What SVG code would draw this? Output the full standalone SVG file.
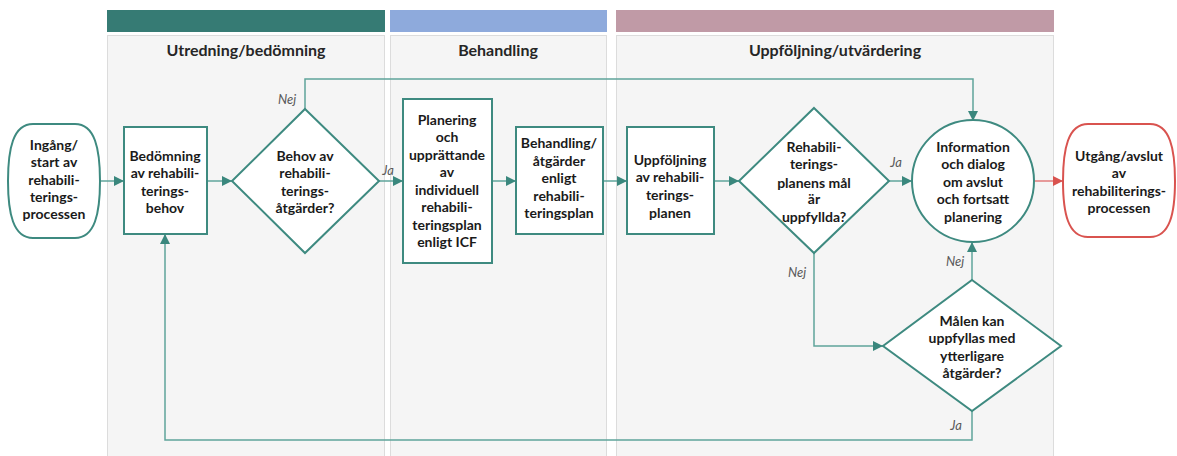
<svg xmlns="http://www.w3.org/2000/svg" width="1177" height="456" viewBox="0 0 1177 456">
<style>
.lane{fill:#f5f5f5;stroke:#dcdcdc;stroke-width:1}
.title{font-family:Lato,"Liberation Sans",sans-serif;font-weight:bold;font-size:16px;fill:#262626;text-anchor:middle}
.node{fill:#ffffff;stroke:#3e8a80;stroke-width:2}
.t{font-family:Lato,"Liberation Sans",sans-serif;font-weight:bold;font-size:14px;fill:#1a1a1a;text-anchor:middle}
.conn{fill:none;stroke:#5fa49b;stroke-width:1.5}
.red{fill:none;stroke:#e07b7b;stroke-width:1.5}
.lbl{font-family:Lato,"Liberation Sans",sans-serif;font-style:italic;font-size:13px;fill:#595959;text-anchor:middle}
</style>
<defs>
<marker id="ah" viewBox="0 0 10 10" refX="10" refY="5" markerWidth="10" markerHeight="10" markerUnits="userSpaceOnUse" orient="auto"><path d="M0,0 L10,5 L0,10 Z" fill="#3a877d"/></marker>
<marker id="ahr" viewBox="0 0 10 10" refX="10" refY="5" markerWidth="10" markerHeight="10" markerUnits="userSpaceOnUse" orient="auto"><path d="M0,0 L10,5 L0,10 Z" fill="#d9534f"/></marker>
</defs>
<rect width="1177" height="456" fill="#ffffff"/>
<g id="lanes">
<rect class="lane" x="107.5" y="35.5" width="277" height="425"/>
<rect class="lane" x="390.5" y="35.5" width="216" height="425"/>
<rect class="lane" x="616.5" y="35.5" width="437" height="425"/>
<rect x="107" y="10" width="278" height="22" fill="#367b74"/>
<rect x="390" y="10" width="217" height="22" fill="#8eaadc"/>
<rect x="616" y="10" width="438" height="22" fill="#c09aa6"/>
<text class="title" x="246" y="56">Utredning/bedömning</text>
<text class="title" x="498" y="56">Behandling</text>
<text class="title" x="835" y="56">Uppföljning/utvärdering</text>
</g>
<g id="connectors">
<line class="conn" x1="100" y1="181" x2="124" y2="181" marker-end="url(#ah)"/>
<line class="conn" x1="207" y1="181" x2="232" y2="181" marker-end="url(#ah)"/>
<line class="conn" x1="379" y1="181" x2="403" y2="181" marker-end="url(#ah)"/>
<line class="conn" x1="492" y1="181" x2="516" y2="181" marker-end="url(#ah)"/>
<line class="conn" x1="603" y1="181" x2="627" y2="181" marker-end="url(#ah)"/>
<line class="conn" x1="714" y1="181" x2="739" y2="181" marker-end="url(#ah)"/>
<line class="conn" x1="889" y1="181" x2="912" y2="181" marker-end="url(#ah)"/>
<line class="red" x1="1033" y1="181" x2="1063" y2="181" marker-end="url(#ahr)"/>
<polyline class="conn" points="305,109 305,79 973,79 973,121" marker-end="url(#ah)"/>
<polyline class="conn" points="814,253 814,346 883,346" marker-end="url(#ah)"/>
<line class="conn" x1="972" y1="280" x2="972" y2="242" marker-end="url(#ah)"/>
<polyline class="conn" points="972,411 972,440 165,440 165,234" marker-end="url(#ah)"/>
<text class="lbl" x="287" y="104">Nej</text>
<text class="lbl" x="388" y="175">Ja</text>
<text class="lbl" x="896" y="167">Ja</text>
<text class="lbl" x="797" y="277">Nej</text>
<text class="lbl" x="955" y="266">Nej</text>
<text class="lbl" x="956" y="430">Ja</text>
</g>
<g id="start">
<path class="node" d="M33,124 H75 C95,124 100,149 100,181 C100,213 95,238 75,238 H33 C13,238 8,213 8,181 C8,149 13,124 33,124 Z"/>
<text class="t" x="54" y="150">Ingång/</text>
<text class="t" x="54" y="167">start av</text>
<text class="t" x="54" y="185">rehabili-</text>
<text class="t" x="54" y="202">terings-</text>
<text class="t" x="54" y="219">processen</text>
</g>
<g id="bedomning">
<rect class="node" x="124" y="127" width="83" height="107"/>
<text class="t" x="165" y="161">Bedömning</text>
<text class="t" x="165" y="178">av rehabili-</text>
<text class="t" x="165" y="196">terings-</text>
<text class="t" x="165" y="213">behov</text>
</g>
<g id="behov">
<polygon class="node" points="305,109 379,181 305,253 232,181"/>
<text class="t" x="305" y="161">Behov av</text>
<text class="t" x="305" y="178">rehabili-</text>
<text class="t" x="305" y="196">terings-</text>
<text class="t" x="305" y="213">åtgärder?</text>
</g>
<g id="planering">
<rect class="node" x="403" y="99" width="89" height="164"/>
<text class="t" x="447" y="125">Planering</text>
<text class="t" x="447" y="142">och</text>
<text class="t" x="447" y="160">upprättande</text>
<text class="t" x="447" y="177">av</text>
<text class="t" x="447" y="195">individuell</text>
<text class="t" x="447" y="212">rehabili-</text>
<text class="t" x="447" y="230">teringsplan</text>
<text class="t" x="447" y="247">enligt ICF</text>
</g>
<g id="behandling">
<rect class="node" x="516" y="127" width="87" height="107"/>
<text class="t" x="559" y="148">Behandling/</text>
<text class="t" x="559" y="166">åtgärder</text>
<text class="t" x="559" y="183">enligt</text>
<text class="t" x="559" y="201">rehabili-</text>
<text class="t" x="559" y="218">teringsplan</text>
</g>
<g id="uppfoljning">
<rect class="node" x="627" y="127" width="87" height="107"/>
<text class="t" x="670" y="165">Uppföljning</text>
<text class="t" x="670" y="182">av rehabili-</text>
<text class="t" x="670" y="200">terings-</text>
<text class="t" x="670" y="218">planen</text>
</g>
<g id="malen-uppfyllda">
<polygon class="node" points="814,108 889,181 814,253 739,181"/>
<text class="t" x="814" y="152">Rehabili-</text>
<text class="t" x="814" y="169">terings-</text>
<text class="t" x="814" y="188">planens mål</text>
<text class="t" x="814" y="204">är</text>
<text class="t" x="814" y="222">uppfyllda?</text>
</g>
<g id="information">
<circle class="node" cx="973" cy="181" r="61"/>
<text class="t" x="973" y="152">Information</text>
<text class="t" x="973" y="169">och dialog</text>
<text class="t" x="973" y="187">om avslut</text>
<text class="t" x="973" y="204">och fortsatt</text>
<text class="t" x="973" y="222">planering</text>
</g>
<g id="ytterligare">
<polygon class="node" points="972,280 1061,346 972,411 883,346"/>
<text class="t" x="972" y="326">Målen kan</text>
<text class="t" x="972" y="343">uppfyllas med</text>
<text class="t" x="972" y="361">ytterligare</text>
<text class="t" x="972" y="378">åtgärder?</text>
</g>
<g id="end">
<path d="M1088,124 H1150 C1170,124 1175,149 1175,181 C1175,213 1170,237 1150,237 H1088 C1068,237 1063,213 1063,181 C1063,149 1068,124 1088,124 Z" fill="#ffffff" stroke="#d9534f" stroke-width="2"/>
<text class="t" x="1119" y="161">Utgång/avslut</text>
<text class="t" x="1119" y="178">av</text>
<text class="t" x="1119" y="196">rehabiliterings-</text>
<text class="t" x="1119" y="213">processen</text>
</g>
</svg>
